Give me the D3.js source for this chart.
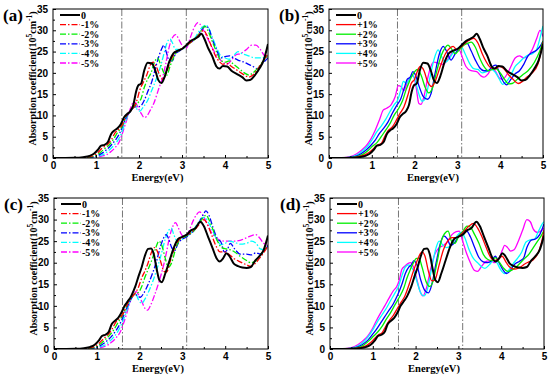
<!DOCTYPE html>
<html>
<head>
<meta charset="utf-8">
<script src="https://d3js.org/d3.v7.min.js"></script>
<style>
  body { margin: 0; background: #fff; }
  svg { font-family: "Liberation Serif", "Times New Roman", serif; font-weight: bold; }
</style>
</head>
<body>
<script>
// energy (eV), absorption (10^5 cm^-1)
const zeroTop = [[0,0],[0.5,0.05],[0.7,0.2],[0.85,0.5],[0.95,1],[1.05,2],[1.12,2.9],[1.2,3.1],[1.28,3.8],[1.35,5.6],[1.42,6.4],[1.5,7],[1.58,8],[1.65,9.5],[1.72,10.3],[1.8,11],[1.87,12.5],[1.93,15.5],[1.98,17],[2.05,17.5],[2.12,20.5],[2.2,22.4],[2.3,22.2],[2.38,20.5],[2.45,18.3],[2.52,17.6],[2.6,19.2],[2.7,22.5],[2.8,24.6],[2.9,25.2],[3.0,25.6],[3.1,26.5],[3.2,27.5],[3.3,28],[3.38,28.5],[3.45,29.2],[3.52,28],[3.6,26],[3.7,24],[3.8,21.5],[3.87,21],[3.95,21.6],[4.05,21.5],[4.15,20.5],[4.3,19.6],[4.4,19],[4.5,18.2],[4.58,18.3],[4.7,19.5],[4.8,21],[4.9,23],[5,26.8]];
const zeroBottom = [[0,0],[0.5,0.05],[0.7,0.2],[0.85,0.5],[0.95,1],[1.05,2],[1.12,3],[1.2,3.3],[1.28,4],[1.35,5.8],[1.42,6.5],[1.5,7.2],[1.58,8.5],[1.65,10],[1.72,11],[1.8,12.2],[1.9,14.5],[1.98,17],[2.05,19],[2.12,21.5],[2.2,23.2],[2.27,23.3],[2.33,22],[2.4,18.5],[2.46,16],[2.52,15.5],[2.6,17.5],[2.7,20.5],[2.8,23.5],[2.9,25.5],[3.0,26],[3.1,26.5],[3.2,27.5],[3.3,28],[3.42,29.5],[3.5,28.5],[3.6,26],[3.7,23.5],[3.8,21],[3.87,20.3],[3.95,21],[4.03,22.2],[4.1,21.5],[4.2,19.8],[4.3,19.2],[4.4,18.9],[4.5,18.8],[4.6,19],[4.7,20.5],[4.8,21.5],[4.9,23],[5,26.3]];

// panel (a): compressive
const aM1 = [[0,0],[0.6,0.05],[0.8,0.2],[0.95,0.6],[1.05,1.3],[1.15,2.4],[1.25,3],[1.35,4.2],[1.45,6],[1.55,7],[1.62,8],[1.7,9.8],[1.8,11],[1.88,12],[1.95,13.5],[2.02,16],[2.1,17.8],[2.18,19.5],[2.27,22],[2.33,22.5],[2.4,21.5],[2.48,19.5],[2.55,18.5],[2.62,19.5],[2.72,22.5],[2.82,24.5],[2.92,25.3],[3.02,25.8],[3.12,26.5],[3.22,27.3],[3.32,28.2],[3.42,29.2],[3.5,30],[3.58,28.8],[3.68,26.3],[3.78,24],[3.88,22.5],[3.95,22],[4.05,22.2],[4.15,21.5],[4.3,20.5],[4.45,19.5],[4.55,19],[4.65,19.5],[4.75,20.7],[4.85,22.2],[5,24.5]];
const aM2 = [[0,0],[0.65,0.05],[0.85,0.2],[1.0,0.6],[1.1,1.3],[1.2,2.2],[1.3,3],[1.4,4.3],[1.5,6],[1.6,7.3],[1.7,9.8],[1.8,11],[1.9,12.2],[1.98,13],[2.05,14],[2.12,16.5],[2.2,18.5],[2.28,20],[2.36,22.5],[2.43,23.5],[2.5,22],[2.58,20],[2.65,19.5],[2.72,21.5],[2.82,24],[2.92,25.2],[3.05,26],[3.15,26.8],[3.25,27.5],[3.35,28.5],[3.45,30],[3.53,31],[3.6,30],[3.7,27.5],[3.8,25],[3.9,23],[4.0,22.5],[4.1,22.8],[4.2,22],[4.35,20.8],[4.45,20],[4.55,19.5],[4.65,20],[4.75,21],[4.85,22.3],[5,24]];
const aM3 = [[0,0],[0.7,0.05],[0.9,0.2],[1.05,0.6],[1.15,1.2],[1.25,2],[1.35,3],[1.45,4.2],[1.55,5.8],[1.62,7.5],[1.7,9.5],[1.8,11],[1.9,12],[1.98,12],[2.05,12.3],[2.12,13.5],[2.2,15.5],[2.3,18],[2.38,21],[2.45,23.5],[2.52,25.5],[2.58,26.5],[2.63,25],[2.7,23],[2.77,22.8],[2.85,24.5],[2.95,25.2],[3.05,26],[3.15,26.8],[3.25,27.5],[3.35,28.5],[3.45,30],[3.55,31],[3.62,30.5],[3.7,28],[3.8,25.5],[3.9,23.5],[4.0,23.8],[4.1,24],[4.2,23.5],[4.3,23],[4.45,22.5],[4.55,22],[4.65,21.5],[4.75,21],[4.85,22],[5,23.5]];
const aM4 = [[0,0],[0.75,0.05],[0.95,0.2],[1.1,0.6],[1.2,1],[1.3,1.8],[1.4,2.8],[1.5,4],[1.58,5.5],[1.65,7.5],[1.72,9.5],[1.8,11],[1.88,12],[1.95,11.5],[2.02,11],[2.1,12],[2.2,13.5],[2.3,16],[2.4,18.5],[2.5,21.5],[2.58,24.5],[2.65,27],[2.72,28],[2.78,27],[2.85,25.5],[2.95,25.5],[3.05,25.8],[3.15,26.8],[3.25,27.5],[3.35,29],[3.45,30.5],[3.55,31.2],[3.62,30.5],[3.7,28.5],[3.8,26],[3.9,24],[4.0,23.5],[4.1,23.2],[4.2,24],[4.3,25],[4.4,24.5],[4.55,24],[4.7,23.5],[4.85,23.5],[5,24]];
const aM5 = [[0,0],[0.8,0.05],[1.0,0.2],[1.15,0.5],[1.25,0.8],[1.35,1.5],[1.45,2.5],[1.55,4],[1.62,6],[1.7,8.5],[1.78,11],[1.85,12.8],[1.92,13],[1.98,11.8],[2.05,10.5],[2.12,9.5],[2.18,9.8],[2.25,11],[2.35,13],[2.45,16],[2.55,19],[2.62,22],[2.7,26],[2.78,28.3],[2.85,29],[2.92,28],[3.0,26.5],[3.1,25.8],[3.2,28.5],[3.3,31],[3.37,31.8],[3.45,31],[3.55,29],[3.65,27],[3.75,25],[3.85,23.5],[3.95,22.5],[4.05,22],[4.15,23],[4.25,24.2],[4.35,24.5],[4.5,25.5],[4.62,26.5],[4.72,26.5],[4.82,25.5],[4.92,24],[5,23.5]];

// panel (b): tensile
const bP1 = [[0,0],[0.5,0.05],[0.7,0.3],[0.85,0.8],[0.95,1.4],[1.05,2.3],[1.12,3],[1.22,3.4],[1.3,5],[1.38,6.4],[1.48,7.3],[1.58,9],[1.66,10.5],[1.75,12],[1.85,15],[1.92,17.5],[2.0,18.5],[2.07,20.5],[2.13,21.5],[2.22,20.5],[2.3,18],[2.4,16.8],[2.48,18],[2.6,21.5],[2.72,24.5],[2.82,25.8],[2.9,26.2],[2.98,25.5],[3.08,26],[3.2,27.2],[3.3,27.8],[3.38,28.1],[3.48,27],[3.58,24.5],[3.68,22.5],[3.78,21.2],[3.9,21],[3.98,21.5],[4.08,21],[4.2,19.5],[4.3,18.5],[4.42,17.5],[4.52,18],[4.62,19],[4.75,20],[4.88,22],[5,27.2]];
const bP2 = [[0,0],[0.45,0.05],[0.65,0.3],[0.8,0.9],[0.92,1.8],[1.02,2.8],[1.12,3.6],[1.22,5],[1.32,6.5],[1.42,8],[1.52,10],[1.62,11.5],[1.72,13.5],[1.8,16],[1.88,18],[1.95,19.5],[2.02,20.5],[2.07,20.8],[2.15,19.5],[2.25,16.5],[2.33,15.3],[2.42,16.5],[2.52,20.5],[2.62,24],[2.72,26],[2.78,26.5],[2.85,25.8],[2.95,24.5],[3.05,25.5],[3.15,26.5],[3.25,27],[3.32,27.2],[3.42,26],[3.52,23.5],[3.62,21.5],[3.72,20.5],[3.82,20.8],[3.9,21],[4.0,20],[4.1,18.5],[4.2,17.4],[4.28,17.5],[4.4,18.5],[4.52,19.5],[4.65,20.5],[4.8,22.5],[4.92,25],[5,27.5]];
const bP3 = [[0,0],[0.4,0.05],[0.6,0.3],[0.75,1],[0.88,2],[0.98,3],[1.08,4.2],[1.18,5.8],[1.28,7],[1.38,8.5],[1.48,10.5],[1.58,12.3],[1.68,14],[1.76,16.5],[1.83,18.5],[1.9,19],[1.96,20.3],[2.02,19.5],[2.1,17],[2.2,14.5],[2.3,13.8],[2.38,15],[2.48,20],[2.58,24.5],[2.67,26.2],[2.75,25],[2.85,23],[2.95,24.5],[3.05,26],[3.15,27],[3.22,27],[3.32,25.2],[3.42,23],[3.52,21.2],[3.62,20.5],[3.72,20.5],[3.82,21.5],[3.9,21.8],[3.98,20],[4.08,17.8],[4.15,17.2],[4.25,18.5],[4.35,19.8],[4.45,20.5],[4.55,22],[4.65,24],[4.75,24.8],[4.85,25.3],[4.95,26.5],[5,27.5]];
const bP4 = [[0,0],[0.35,0.05],[0.55,0.3],[0.7,1],[0.82,2],[0.92,3],[1.02,4.5],[1.12,6.2],[1.22,7.5],[1.32,9],[1.42,10.8],[1.52,12.5],[1.6,13.5],[1.68,16],[1.74,18],[1.8,17.5],[1.88,18.5],[1.95,19.5],[2.02,18],[2.1,15],[2.18,13.3],[2.25,14],[2.35,18.5],[2.45,23],[2.55,25.4],[2.62,24],[2.72,22.5],[2.82,23.5],[2.92,25],[3.02,25.8],[3.1,26],[3.18,24.5],[3.28,22.3],[3.38,21],[3.48,20.8],[3.58,20],[3.68,20.3],[3.78,20.8],[3.88,20.2],[3.98,18.5],[4.06,17.3],[4.15,18],[4.25,19.5],[4.35,21.5],[4.45,22.5],[4.55,23.5],[4.65,24.2],[4.75,24.5],[4.85,25.5],[4.95,29],[5,31]];
const bP5 = [[0,0],[0.3,0.05],[0.5,0.3],[0.65,1],[0.78,2],[0.88,3],[0.98,4.5],[1.08,6.5],[1.18,9],[1.27,11.3],[1.35,11.7],[1.45,12.5],[1.55,14.5],[1.62,17],[1.68,16.8],[1.75,15.8],[1.82,17.5],[1.9,19],[1.97,19.3],[2.03,17],[2.1,12.8],[2.15,12.6],[2.22,14.5],[2.3,18.5],[2.38,21.5],[2.45,22.5],[2.55,22.3],[2.65,22],[2.75,22.8],[2.85,24.3],[2.95,25.5],[3.05,25.3],[3.12,23.5],[3.2,21.5],[3.32,20.5],[3.45,20.3],[3.55,19.3],[3.62,19],[3.72,19.8],[3.8,21],[3.88,20.5],[3.98,18.8],[4.05,18.5],[4.15,19.5],[4.25,21.5],[4.35,23.5],[4.45,24],[4.55,23.5],[4.65,24],[4.75,25.5],[4.85,28],[4.93,30],[5,28.5]];

// panel (c): compressive
const cM1 = [[0,0],[0.6,0.05],[0.8,0.2],[0.95,0.6],[1.05,1.3],[1.15,2.3],[1.25,3.2],[1.35,4.5],[1.45,6.3],[1.55,7.3],[1.63,8.5],[1.72,10.5],[1.8,11.8],[1.9,13],[1.98,14.5],[2.05,16.5],[2.12,18],[2.2,20],[2.28,22.5],[2.35,23.5],[2.42,22.5],[2.5,20],[2.57,18],[2.63,17.8],[2.72,20.5],[2.82,23.5],[2.92,25.3],[3.02,26],[3.12,26.5],[3.22,27.2],[3.32,28],[3.42,29.2],[3.5,30],[3.58,29],[3.68,26.5],[3.78,24],[3.88,22.5],[3.98,22.5],[4.08,22],[4.2,21],[4.35,20.2],[4.5,19.5],[4.6,19.2],[4.7,19.8],[4.8,21],[4.9,22.3],[5,24]];
const cM2 = [[0,0],[0.65,0.05],[0.85,0.2],[1.0,0.6],[1.1,1.3],[1.2,2.2],[1.3,3.2],[1.4,4.5],[1.5,6.2],[1.6,7.8],[1.7,10],[1.8,11.8],[1.9,12.8],[1.98,13.2],[2.05,14.5],[2.12,16.5],[2.2,18.5],[2.3,21],[2.38,23.5],[2.45,25],[2.52,24],[2.6,21],[2.67,19],[2.75,20],[2.85,23.5],[2.95,25.5],[3.05,26],[3.15,26.5],[3.25,27.2],[3.35,28.5],[3.45,30],[3.55,31],[3.62,30],[3.72,27.5],[3.82,25],[3.92,23.5],[4.02,23.2],[4.12,23],[4.22,22.5],[4.35,21.5],[4.5,20.5],[4.6,20],[4.7,20.3],[4.8,21.5],[4.9,22.8],[5,24]];
const cM3 = [[0,0],[0.7,0.05],[0.9,0.2],[1.05,0.6],[1.15,1.2],[1.25,2],[1.35,3],[1.45,4.3],[1.55,6],[1.63,7.8],[1.7,9.5],[1.8,11.5],[1.88,12.8],[1.95,12.3],[2.02,12],[2.1,13],[2.2,15],[2.3,17.5],[2.4,20.5],[2.48,23.5],[2.55,25.5],[2.62,26.5],[2.68,25.5],[2.75,23.5],[2.82,22.8],[2.9,24.5],[3.0,25.5],[3.1,26],[3.2,26.8],[3.3,27.8],[3.4,29.5],[3.48,31],[3.55,32],[3.62,31],[3.72,28],[3.82,25.5],[3.9,24.8],[3.98,22.5],[4.05,23],[4.12,24.5],[4.22,23.2],[4.35,22],[4.5,22],[4.62,21.8],[4.72,22.3],[4.82,22],[4.92,22.8],[5,24]];
const cM4 = [[0,0],[0.75,0.05],[0.95,0.2],[1.1,0.6],[1.2,1],[1.3,1.8],[1.4,2.8],[1.5,4.2],[1.58,5.8],[1.66,7.8],[1.74,10],[1.82,12],[1.9,13],[1.97,11.5],[2.05,10.6],[2.12,11.5],[2.22,13.5],[2.32,16],[2.42,19],[2.52,22.5],[2.6,25.5],[2.68,27.5],[2.74,28],[2.8,26.5],[2.88,25],[2.96,25.2],[3.05,25.8],[3.15,26.5],[3.25,27.5],[3.35,29],[3.45,30.3],[3.52,30.5],[3.6,29.5],[3.7,27.5],[3.8,25.5],[3.9,24.2],[4.0,24.5],[4.1,25],[4.2,24.8],[4.35,24.3],[4.5,24.5],[4.62,25],[4.72,24.5],[4.82,23.2],[4.92,23],[5,23.5]];
const cM5 = [[0,0],[0.8,0.05],[1.0,0.2],[1.15,0.5],[1.25,0.9],[1.35,1.6],[1.45,2.6],[1.55,4],[1.62,5.8],[1.7,8.3],[1.78,11],[1.85,12.8],[1.92,13.3],[1.98,12.5],[2.05,11],[2.12,9.5],[2.19,9],[2.25,10],[2.35,12.5],[2.45,15.5],[2.55,19],[2.63,22.5],[2.7,26],[2.78,28.5],[2.84,29.3],[2.9,28.2],[2.98,26.5],[3.06,25.8],[3.14,27],[3.22,29],[3.32,31],[3.4,31.8],[3.48,31],[3.58,29],[3.68,27],[3.78,25.8],[3.88,25.2],[3.98,25],[4.1,25],[4.22,25],[4.35,25.2],[4.5,25.8],[4.62,26.3],[4.72,26.5],[4.8,25.8],[4.9,24.5],[5,24]];

// panel (d): tensile
const dP1 = [[0,0],[0.5,0.05],[0.7,0.3],[0.85,0.8],[0.95,1.5],[1.05,2.5],[1.12,3.2],[1.22,3.8],[1.3,5.2],[1.38,6.5],[1.48,7.8],[1.58,9.5],[1.66,10.8],[1.75,12.3],[1.85,15],[1.93,17.5],[2.0,19.5],[2.08,21.5],[2.15,22.5],[2.22,21.5],[2.3,18],[2.38,15.8],[2.45,16],[2.55,19.5],[2.65,23],[2.75,25],[2.85,25.8],[2.95,25.8],[3.05,26.5],[3.15,27.5],[3.25,28.5],[3.35,29.1],[3.45,28],[3.55,26],[3.65,23.5],[3.75,21.3],[3.85,20.5],[3.95,21],[4.02,21.5],[4.12,20],[4.22,18.8],[4.32,18.5],[4.45,19],[4.55,19.7],[4.65,20.2],[4.75,20.7],[4.85,22],[4.95,25],[5,27.5]];
const dP2 = [[0,0],[0.45,0.05],[0.65,0.3],[0.8,1],[0.92,2],[1.02,3],[1.12,4],[1.22,5.3],[1.32,7],[1.42,8.5],[1.52,10.3],[1.62,12],[1.72,14],[1.8,16.5],[1.88,18.5],[1.95,20],[2.02,21],[2.08,21],[2.15,19],[2.25,15.5],[2.33,14.5],[2.4,15.5],[2.5,20],[2.6,25],[2.7,27],[2.76,27.3],[2.84,25],[2.92,24.5],[3.0,26],[3.1,27.2],[3.2,28.5],[3.28,28.2],[3.38,26.5],[3.48,24.5],[3.58,22],[3.68,20.8],[3.78,20.5],[3.86,21.2],[3.95,20.2],[4.05,18.8],[4.15,18],[4.25,18.3],[4.35,19],[4.45,20],[4.55,21],[4.65,22],[4.75,23.5],[4.85,25],[4.95,26.5],[5,27.5]];
const dP3 = [[0,0],[0.4,0.05],[0.6,0.3],[0.75,1],[0.88,2],[0.98,3.2],[1.08,4.5],[1.18,6],[1.28,7.5],[1.38,9],[1.48,10.5],[1.58,12.5],[1.68,15],[1.76,17.5],[1.84,19],[1.9,19.5],[1.96,20.5],[2.03,19.5],[2.12,16],[2.22,13.5],[2.3,13],[2.38,15],[2.48,20],[2.58,24.5],[2.66,26.2],[2.74,25.5],[2.82,24],[2.9,24.5],[3.0,26],[3.1,27.2],[3.18,27.5],[3.28,26],[3.38,23.5],[3.48,21.2],[3.58,20.2],[3.68,20],[3.78,20.5],[3.86,21.5],[3.95,20],[4.05,18.2],[4.12,17.5],[4.2,18],[4.3,19.5],[4.42,20.3],[4.52,21],[4.6,23.5],[4.7,25.2],[4.8,25.5],[4.9,26.5],[5,29]];
const dP4 = [[0,0],[0.35,0.05],[0.55,0.3],[0.7,1],[0.82,2],[0.92,3.2],[1.02,4.8],[1.12,6.5],[1.22,8],[1.32,9.5],[1.42,11.3],[1.52,13],[1.6,14.5],[1.68,17],[1.76,19],[1.84,19.5],[1.9,19],[1.96,18],[2.05,15],[2.13,12.8],[2.2,12.3],[2.28,14],[2.38,19],[2.48,23.5],[2.55,25],[2.62,24.3],[2.72,23.5],[2.82,24],[2.92,25.5],[3.02,26.8],[3.08,27],[3.15,25.8],[3.25,23],[3.35,21],[3.45,20],[3.55,19],[3.62,18.7],[3.72,19.5],[3.82,20.5],[3.9,20],[3.98,18.5],[4.08,17.5],[4.18,18.3],[4.28,19.8],[4.38,21],[4.48,22.5],[4.58,24.8],[4.68,25.3],[4.78,25.5],[4.88,27.5],[4.96,29],[5,29.5]];
const dP5 = [[0,0],[0.3,0.05],[0.5,0.3],[0.65,1],[0.78,2],[0.88,3],[0.98,4.5],[1.08,6.5],[1.18,8.3],[1.28,10],[1.38,11.8],[1.48,13.5],[1.56,14.5],[1.62,16],[1.68,18.5],[1.75,19.2],[1.82,19.8],[1.88,20],[1.95,19],[2.02,16.5],[2.1,13.5],[2.17,12.3],[2.25,14],[2.35,18.5],[2.45,22],[2.55,23.5],[2.65,24],[2.75,25],[2.85,26.5],[2.95,27.2],[3.02,27.3],[3.1,25],[3.18,22.5],[3.28,20],[3.38,18.2],[3.45,18],[3.55,19.3],[3.65,20.3],[3.75,20.5],[3.85,20],[3.95,21],[4.03,23],[4.08,24],[4.15,23.5],[4.22,22.7],[4.3,23],[4.4,25],[4.5,27.5],[4.6,30],[4.68,29.5],[4.75,27.8],[4.85,27],[4.95,27.5],[5,28]];

const minusLabels = ["0", "-1%", "-2%", "-3%", "-4%", "-5%"];
const plusLabels = ["0", "+1%", "+2%", "+3%", "+4%", "+5%"];
const colors = ["#000000", "#ff0000", "#00ee00", "#0000ff", "#00ffff", "#ff00ff"];
const xTicks = [0, 1, 2, 3, 4, 5];
const yTicks = [0, 5, 10, 15, 20, 25, 30, 35];
const markers = [1.6, 3.1];

const panels = [
  {tag: "(a)", left: 53, right: 268, top: 9, bottom: 158, series: [zeroTop, aM1, aM2, aM3, aM4, aM5], labels: minusLabels, dashed: true},
  {tag: "(b)", left: 329, right: 543, top: 9, bottom: 158, series: [zeroTop, bP1, bP2, bP3, bP4, bP5], labels: plusLabels, dashed: false},
  {tag: "(c)", left: 54, right: 268, top: 198, bottom: 349, series: [zeroBottom, cM1, cM2, cM3, cM4, cM5], labels: minusLabels, dashed: true},
  {tag: "(d)", left: 330, right: 544, top: 198, bottom: 349, series: [zeroBottom, dP1, dP2, dP3, dP4, dP5], labels: plusLabels, dashed: false}
];

const svg = d3.select("body").append("svg")
  .attr("width", 550)
  .attr("height", 376);

panels.forEach((p, pi) => {
  const x = d3.scaleLinear().domain([0, 5]).range([p.left, p.right]);
  const y = d3.scaleLinear().domain([0, 35]).range([p.bottom, p.top]);
  const g = svg.append("g");
  const clipId = "clip" + pi;

  g.append("clipPath").attr("id", clipId)
    .append("rect")
    .attr("x", p.left).attr("y", p.top)
    .attr("width", p.right - p.left).attr("height", p.bottom - p.top);

  // gap markers
  g.selectAll(".marker")
    .data(markers)
    .join("line")
    .attr("x1", d => x(d)).attr("x2", d => x(d))
    .attr("y1", p.top).attr("y2", p.bottom)
    .attr("stroke", "#777")
    .attr("stroke-width", 1)
    .attr("stroke-dasharray", "7,2,1.5,2");

  const line = d3.line()
    .x(d => x(d[0]))
    .y(d => y(d[1]))
    .curve(d3.curveMonotoneX);

  // coloured series first, black on top
  const order = [5, 4, 3, 2, 1, 0];
  g.append("g").attr("clip-path", `url(#${clipId})`)
    .selectAll("path")
    .data(order)
    .join("path")
    .attr("d", i => line(p.series[i]))
    .attr("fill", "none")
    .attr("stroke", i => colors[i])
    .attr("stroke-width", i => i === 0 ? 2 : 1.3)
    .attr("stroke-dasharray", i => (p.dashed && i > 0) ? "6,2,1.5,2" : null);

  // frame
  g.append("rect")
    .attr("x", p.left).attr("y", p.top)
    .attr("width", p.right - p.left).attr("height", p.bottom - p.top)
    .attr("fill", "none").attr("stroke", "#000").attr("stroke-width", 1);

  // x axis
  const xAxis = g.append("g")
    .attr("transform", `translate(0,${p.bottom})`)
    .call(d3.axisBottom(x).tickValues(xTicks).tickFormat(d3.format("d")).tickSizeInner(-3).tickSizeOuter(0).tickPadding(4));
  xAxis.select(".domain").remove();
  xAxis.selectAll("text").attr("font-size", 10).attr("font-family", null).attr("fill", "#000");
  g.append("g")
    .attr("transform", `translate(0,${p.bottom})`)
    .call(d3.axisBottom(x).tickValues([0.5, 1.5, 2.5, 3.5, 4.5]).tickFormat("").tickSizeInner(-2).tickSizeOuter(0))
    .call(a => a.select(".domain").remove());

  // y axis
  const yAxis = g.append("g")
    .attr("transform", `translate(${p.left},0)`)
    .call(d3.axisLeft(y).tickValues(yTicks).tickSizeInner(-3).tickSizeOuter(0).tickPadding(5));
  yAxis.select(".domain").remove();
  yAxis.selectAll("text").attr("font-size", 10).attr("font-family", null).attr("fill", "#000");
  g.append("g")
    .attr("transform", `translate(${p.left},0)`)
    .call(d3.axisLeft(y).tickValues([2.5, 7.5, 12.5, 17.5, 22.5, 27.5, 32.5]).tickFormat("").tickSizeInner(-2).tickSizeOuter(0))
    .call(a => a.select(".domain").remove());

  // axis titles
  g.append("text")
    .attr("x", (p.left + p.right) / 2 - 3)
    .attr("y", p.bottom + 23)
    .attr("text-anchor", "middle")
    .attr("font-size", 10.5)
    .text("Energy(eV)");

  const yl = g.append("text")
    .attr("transform", `translate(${p.left - 17},${(p.top + p.bottom) / 2 - 5}) rotate(-90)`)
    .attr("text-anchor", "middle")
    .attr("font-size", 10);
  yl.append("tspan").text("Absorption coefficient(10");
  yl.append("tspan").attr("dy", -4).attr("font-size", 7.5).text("5");
  yl.append("tspan").attr("dy", 4).text("cm");
  yl.append("tspan").attr("dy", -4).attr("font-size", 7.5).text("-1");
  yl.append("tspan").attr("dy", 4).text(")");

  // panel tag
  g.append("text")
    .attr("x", p.left - 50)
    .attr("y", p.top + 12)
    .attr("font-size", 17)
    .text(p.tag);

  // legend
  const leg = g.append("g")
    .attr("transform", `translate(${p.left + 7},${p.top + 6})`);
  const rows = leg.selectAll("g")
    .data(p.labels)
    .join("g")
    .attr("transform", (d, i) => `translate(0,${i * 9.6})`);
  rows.append("line")
    .attr("x1", 0).attr("x2", 20)
    .attr("stroke", (d, i) => colors[i])
    .attr("stroke-width", (d, i) => i === 0 ? 2 : 1.3)
    .attr("stroke-dasharray", (d, i) => (p.dashed && i > 0) ? "6,2,1.5,2" : null);
  rows.append("text")
    .attr("x", 21)
    .attr("dy", "0.35em")
    .attr("font-size", 10)
    .text(d => d);
});
</script>
</body>
</html>
